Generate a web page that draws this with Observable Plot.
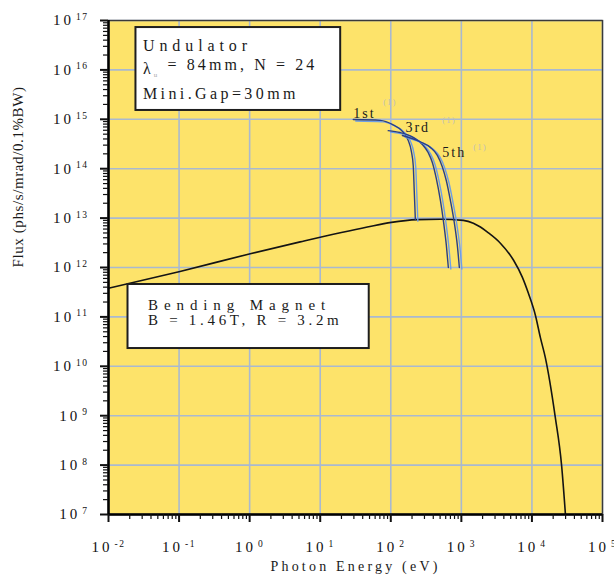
<!DOCTYPE html>
<html><head><meta charset="utf-8">
<script src="https://cdn.jsdelivr.net/npm/d3@7"></script>
<script src="https://cdn.jsdelivr.net/npm/@observablehq/plot@0.6"></script>
<style>
html,body{margin:0;padding:0;background:#fff;overflow:hidden}
</style>
</head><body><div id="chart"></div>
<script>
// ---- data ----
const xTicks = [1e-2, 1e-1, 1, 10, 100, 1e3, 1e4, 1e5];
const xTickLabels = ["10^-2", "10^-1", "10^0", "10^1", "10^2", "10^3", "10^4", "10^5"];
const yTicks = [1e7, 1e8, 1e9, 1e10, 1e11, 1e12, 1e13, 1e14, 1e15, 1e16, 1e17];
const yTickLabels = ["10^7", "10^8", "10^9", "10^10", "10^11", "10^12", "10^13", "10^14", "10^15", "10^16", "10^17"];

// Bending magnet
const bmEnergy = [0.01, 0.103, 1.02, 5.2, 46.5, 102, 238, 501, 1067, 1479, 1862, 2344, 3573, 5495, 7328, 8913, 11220, 13183, 15488, 21380, 26303, 29854];
const bmFlux = [3.8e11, 8.3e11, 1.9e12, 3.3e12, 6.6e12, 8.2e12, 9.3e12, 9.5e12, 9.0e12, 7.9e12, 6.6e12, 5.2e12, 3.1e12, 1.4e12, 6.3e11, 3.0e11, 1.07e11, 3.8e10, 1.5e10, 9.5e8, 1.0e8, 1.0e7];

// Undulator harmonics
const u1Energy = [29.4, 71, 105, 146, 177, 195, 208, 215, 223];
const u1Flux = [9.9e14, 9.5e14, 7.9e14, 5.7e14, 3.7e14, 2.3e14, 1.16e14, 3.6e13, 9.3e12];
const u3Energy = [92, 136, 208, 280, 340, 388, 442, 504, 556, 613, 654];
const u3Flux = [5.9e14, 5.4e14, 4.3e14, 3.1e14, 2.1e14, 1.34e14, 6.3e13, 2.3e13, 8.9e12, 2.8e12, 1.0e12];
const u5Energy = [146, 262, 363, 457, 537, 613, 698, 794, 877, 937];
const u5Flux = [4.7e14, 3.5e14, 2.7e14, 1.86e14, 1.1e14, 5.7e13, 2.3e13, 8.1e12, 2.8e12, 1.0e12];

// Annotations (data coordinates)
const harmonicNames = ["1st", "3rd", "5th"];
const harmonicNameE = [29.4, 161, 537];
const harmonicNameF = [1.34e15, 6.7e14, 2.08e14];
const harmonicMarkE = [78, 537, 1480];
const harmonicMarkF = [2.19e15, 9.5e14, 2.69e14];

const undulatorLines = ["Undulator", "λu = 84mm, N = 24", "Mini.Gap=30mm"];
const undulatorLineF = [3.12e16, 1.07e16, 3.33e15];
const undulatorTextE = 0.0308;
const undulatorBox = {e1: 0.0245, e2: 19.5, f1: 1.51e15, f2: 7.2e16};

const bmLines = ["Bending Magnet", "B = 1.46T, R = 3.2m"];
const bmLineF = [1.70e11, 8.45e10];
const bmTextE = 0.0363;
const bmBox = {e1: 0.0189, e2: 49.5, f1: 2.29e10, f2: 4.53e11};

const xTitle = "Photon Energy (eV)";
const yTitle = "Flux (phs/s/mrad/0.1%BW)";

// ---- build tables ----
const zip = (E, F) => E.map((e, i) => ({e, f: F[i]}));
const bm = zip(bmEnergy, bmFlux);
const harmonics = [zip(u1Energy, u1Flux), zip(u3Energy, u3Flux), zip(u5Energy, u5Flux)];
const nameRows = harmonicNames.map((t, i) => ({t, e: harmonicNameE[i], f: harmonicNameF[i]}));
const markRows = harmonicNames.map((t, i) => ({t: "(1)", e: harmonicMarkE[i], f: harmonicMarkF[i]}));
const uRows = undulatorLines.map((t, i) => ({t, e: undulatorTextE, f: undulatorLineF[i]}));
const bRows = bmLines.map((t, i) => ({t, e: bmTextE, f: bmLineF[i]}));

const xMinor = [], yMinor = [];
for (let d = -2; d < 5; d++) for (let k = 2; k < 10; k++) xMinor.push(k * Math.pow(10, d));
for (let d = 7; d < 17; d++) for (let k = 2; k < 10; k++) yMinor.push(k * Math.pow(10, d));

const xFmt = d => xTickLabels[xTicks.findIndex(v => Math.abs(Math.log10(v) - Math.log10(d)) < 1e-6)];
const yFmt = d => yTickLabels[yTicks.findIndex(v => Math.abs(Math.log10(v) - Math.log10(d)) < 1e-6)];

const blueLight = "#6e9ee6", blueDark = "#2a3f86";
const harmonicMarks = harmonics.flatMap(h => [
  Plot.line(h, {x: "e", y: "f", stroke: blueLight, strokeWidth: 1.4, dx: 2.5, dy: 1.5, curve: "monotone-x"}),
  Plot.line(h, {x: "e", y: "f", stroke: blueDark, strokeWidth: 1.4, curve: "monotone-x"})
]);

const txt = (rows, size, spacing, extra = {}) =>
  Plot.text(rows, {x: "e", y: "f", text: "t", textAnchor: "start", lineAnchor: "middle", fontSize: size, fill: "#1a1a1a", ariaDescription: "ls-" + spacing, ...extra});

const chart = Plot.plot({
  width: 614, height: 578,
  marginLeft: 108, marginRight: 12, marginTop: 20, marginBottom: 64,
  x: {type: "log", domain: [1e-2, 1e5]},
  y: {type: "log", domain: [1e7, 1e17]},
  style: {fontFamily: "'Liberation Serif', serif", fontSize: "15px", background: "#fff", color: "#111", overflow: "visible"},
  marks: [
    Plot.frame({fill: "#fde36a", stroke: "none"}),
    Plot.gridX(xTicks, {stroke: "#a9b9d0", strokeOpacity: 1, strokeWidth: 1.6}),
    Plot.gridY(yTicks, {stroke: "#a9b9d0", strokeOpacity: 1, strokeWidth: 1.6}),
    Plot.line(bm, {x: "e", y: "f", stroke: "#141414", strokeWidth: 1.6, curve: "monotone-x"}),
    ...harmonicMarks,
    txt(nameRows, 14, 2),
    txt(markRows, 8, 1.5, {fill: "#bcbcbc"}),
    Plot.rect([undulatorBox], {x1: "e1", x2: "e2", y1: "f1", y2: "f2", fill: "#fff", stroke: "#1e1e1e", strokeWidth: 2}),
    txt([uRows[0]], 16, 4.9),
    txt([uRows[1]], 16, 3.1),
    txt([uRows[2]], 16, 3.4),
    Plot.rect([bmBox], {x1: "e1", x2: "e2", y1: "f1", y2: "f2", fill: "#fff", stroke: "#1e1e1e", strokeWidth: 2}),
    txt([bRows[0]], 15, 5.9),
    txt([bRows[1]], 15, 3.7),
    Plot.frame({stroke: "#3a3a3a", strokeWidth: 1.4}),
    Plot.ruleX([1e-2], {stroke: "#000", strokeWidth: 2.5}),
    Plot.ruleY([1e7], {stroke: "#000", strokeWidth: 2.5}),
    Plot.axisX(xMinor, {tickSize: 5, tickFormat: () => "", strokeWidth: 1.2, label: null}),
    Plot.axisX(xTicks, {tickSize: 8, strokeWidth: 2, tickPadding: 19, tickFormat: xFmt, fontSize: 15, label: null}),
    Plot.axisY(yMinor, {tickSize: 5, tickFormat: () => "", strokeWidth: 1.2, label: null}),
    Plot.axisY(yTicks, {tickSize: 8, strokeWidth: 2, tickPadding: 12, tickFormat: yFmt, fontSize: 15, label: null}),
    Plot.text([xTitle], {text: d => d, frameAnchor: "bottom", dy: 56, fontSize: 14, fill: "#1a1a1a", ariaDescription: "ls-3.2"}),
    Plot.text([yTitle], {text: d => d, frameAnchor: "left", dx: -90, rotate: -90, fontSize: 15, fill: "#1a1a1a", ariaDescription: "ls-0.6"})
  ]
});

// letter spacing by mark description
chart.querySelectorAll('[aria-description^="ls-"]').forEach(el => {
  const v = el.getAttribute("aria-description").slice(3) + "px";
  const texts = el.tagName.toLowerCase() === "text" ? [el] : el.querySelectorAll("text");
  texts.forEach(t => t.setAttribute("letter-spacing", v));
});

// superscripts / subscripts as real text
const NS = "http://www.w3.org/2000/svg";
chart.querySelectorAll("text").forEach(t => {
  const s = t.textContent;
  const m = s.match(/^10\^(-?\d+)$/);
  if (m) {
    t.textContent = "";
    const a = document.createElementNS(NS, "tspan");
    a.textContent = "10"; a.setAttribute("letter-spacing", "3px");
    const b = document.createElementNS(NS, "tspan");
    b.textContent = m[1]; b.setAttribute("dy", "-0.55em"); b.setAttribute("font-size", "9.5px");
    b.setAttribute("letter-spacing", "1.5px"); b.setAttribute("dx", "2");
    t.appendChild(a); t.appendChild(b);
  } else if (s.startsWith("λu")) {
    t.textContent = "";
    const a = document.createElementNS(NS, "tspan"); a.textContent = "λ";
    const b = document.createElementNS(NS, "tspan"); b.textContent = "u";
    b.setAttribute("dy", "0.45em"); b.setAttribute("font-size", "7px"); b.setAttribute("fill", "#aaa");
    const c = document.createElementNS(NS, "tspan"); c.textContent = s.slice(2);
    c.setAttribute("dy", "-0.45em");
    t.appendChild(a); t.appendChild(b); t.appendChild(c);
  }
});

document.getElementById("chart").appendChild(chart);
</script>
</body></html>
